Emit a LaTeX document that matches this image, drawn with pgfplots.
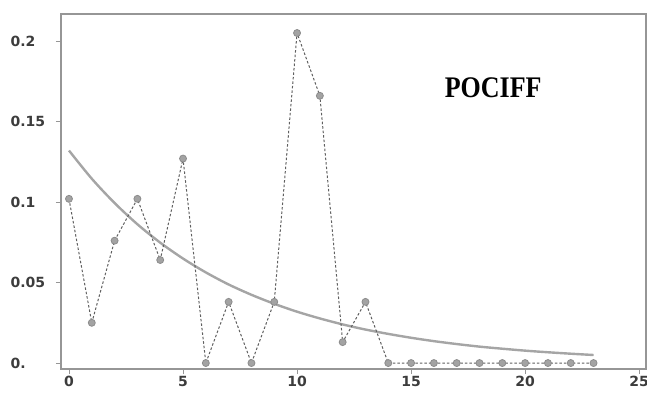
\documentclass[border=0pt]{standalone}
\usepackage{fontspec}
\usepackage{graphicx}
\setmainfont{DejaVu Sans}
\newfontfamily\titlefont{Liberation Serif}
\usepackage{pgfplots}
\pgfplotsset{compat=1.18}
\definecolor{axgray}{RGB}{150,150,150}
\definecolor{curvegray}{RGB}{165,165,165}
\definecolor{dashgray}{RGB}{95,95,95}
\definecolor{markgray}{RGB}{140,140,140}
\definecolor{labgray}{RGB}{60,60,60}
\begin{document}
\begin{tikzpicture}[x=1pt,y=1pt]
\path[use as bounding box] (-61,-25) rectangle (586,369);
\begin{axis}[
  at={(0,0)}, anchor=south west,
  scale only axis, width=585pt, height=355pt,
  xmin=-0.35, xmax=25.3, ymin=-0.0037, ymax=0.2168,
  axis line style={draw=axgray, line width=1.3pt},
  xtick={0,5,10,15,20,25},
  ytick={0,0.05,0.1,0.15,0.2},
  yticklabels={0.,0.05,0.1,0.15,0.2},
  xtick pos=bottom, ytick pos=left,
  tick align=outside, major tick length=5pt,
  tick style={draw=axgray, line width=0.8pt},
  /pgf/number format/assume math mode=true,
  tick label style={font=\fontsize{14}{16}\selectfont\bfseries, text=labgray},
  yticklabel style={anchor=west, xshift=-49pt},
  xticklabel style={yshift=1pt},
  clip=false,
]
\addplot[color=curvegray, line width=2.4pt, smooth, no marks] coordinates {
(0,0.1320) (1,0.1145) (2,0.0994) (3,0.0862) (4,0.0748) (5,0.0649)
(6,0.0563) (7,0.0488) (8,0.0424) (9,0.0368) (10,0.0319) (11,0.0277)
(12,0.0240) (13,0.0208) (14,0.0181) (15,0.0157) (16,0.0136) (17,0.0118)
(18,0.0102) (19,0.0089) (20,0.0077) (21,0.0067) (22,0.0058) (23,0.0050)
};
\addplot[color=dashgray, line width=1pt, dash pattern=on 2.5pt off 2pt,
  mark=*, mark size=3.5pt, mark options={solid, fill=markgray!80, draw=markgray, line width=0.8pt}] coordinates {
(0,0.102) (1,0.025) (2,0.076) (3,0.102) (4,0.064) (5,0.127)
(6,0) (7,0.038) (8,0) (9,0.038) (10,0.205) (11,0.166)
(12,0.013) (13,0.038) (14,0) (15,0) (16,0) (17,0)
(18,0) (19,0) (20,0) (21,0) (22,0) (23,0)
};
\node[font=\titlefont\bfseries\fontsize{26}{28}\selectfont, text=black] at (axis cs:18.6,0.1711) {\scalebox{1}[1.15]{POCIFF}};
\end{axis}
\end{tikzpicture}
\end{document}
